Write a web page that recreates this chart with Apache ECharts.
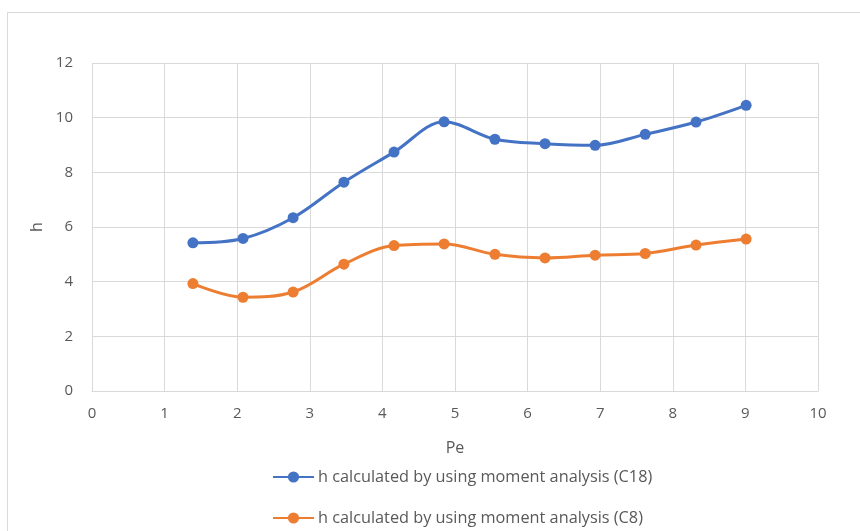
<!DOCTYPE html>
<html>
<head>
<meta charset="utf-8">
<script src="https://cdn.jsdelivr.net/npm/echarts@6/dist/echarts.min.js"></script>
<style>
html,body{margin:0;padding:0;background:#fff;}
#chart{width:860px;height:531px;}
</style>
</head>
<body>
<div id="chart"></div>
<script>
var peValues = [1.39, 2.08, 2.77, 3.47, 4.16, 4.85, 5.55, 6.24, 6.93, 7.62, 8.32, 9.01];
var hC18 = [5.42, 5.58, 6.34, 7.64, 8.74, 9.85, 9.21, 9.05, 8.99, 9.39, 9.84, 10.45];
var hC8 = [3.93, 3.43, 3.62, 4.64, 5.32, 5.38, 5.00, 4.87, 4.97, 5.03, 5.34, 5.56];
var seriesNames = ['h calculated by using moment analysis (C18)', 'h calculated by using moment analysis (C8)'];
var xAxisTitle = 'Pe';
var yAxisTitle = 'h';

function pairs(xs, ys) { return xs.map(function (x, i) { return [x, ys[i]]; }); }

var fontFam = '"Open Sans", "Liberation Sans", sans-serif';
var textColor = '#595959';
var gridColor = '#D9D9D9';

function legendFor(name, top) {
  return {
    left: 272, top: top, padding: 0,
    itemWidth: 41, itemHeight: 14,
    textStyle: {fontSize: 16.3, color: textColor, fontFamily: fontFam, padding: [0,0,0,-1]},
    data: [name]
  };
}

var chart = echarts.init(document.getElementById('chart'), null, {renderer: 'canvas'});
chart.setOption({
  animation: false,
  backgroundColor: '#fff',
  textStyle: {fontFamily: fontFam, color: textColor},
  graphic: [{
    type: 'rect', silent: true, z: -1,
    shape: {x: 7.5, y: 12.5, width: 900, height: 600},
    style: {fill: 'none', stroke: gridColor, lineWidth: 1}
  }],
  grid: {left: 92, right: 42, top: 63, bottom: 140, containLabel: false},
  xAxis: {
    type: 'value', min: 0, max: 10, interval: 1,
    name: xAxisTitle, nameLocation: 'middle', nameGap: 49,
    nameTextStyle: {fontSize: 16, color: textColor, fontFamily: fontFam},
    axisLine: {show: true, lineStyle: {color: gridColor, width: 1}},
    axisTick: {show: false},
    axisLabel: {fontSize: 15, color: textColor, margin: 15, fontFamily: fontFam},
    splitLine: {show: true, lineStyle: {color: gridColor, width: 1}}
  },
  yAxis: {
    type: 'value', min: 0, max: 12, interval: 2,
    name: yAxisTitle, nameLocation: 'middle', nameGap: 47, nameRotate: 90,
    nameTextStyle: {fontSize: 16, color: textColor, fontFamily: fontFam},
    axisLine: {show: false},
    axisTick: {show: false},
    axisLabel: {fontSize: 15, color: textColor, margin: 19, fontFamily: fontFam},
    splitLine: {show: true, lineStyle: {color: gridColor, width: 1}}
  },
  legend: [legendFor(seriesNames[0], 469), legendFor(seriesNames[1], 510)],
  series: [
    {
      name: seriesNames[0], type: 'line', data: pairs(peValues, hC18),
      smooth: 0.35, symbol: 'circle', symbolSize: 11,
      lineStyle: {color: '#4472C4', width: 3}, itemStyle: {color: '#4472C4'}
    },
    {
      name: seriesNames[1], type: 'line', data: pairs(peValues, hC8),
      smooth: 0.35, symbol: 'circle', symbolSize: 11,
      lineStyle: {color: '#ED7D31', width: 3}, itemStyle: {color: '#ED7D31'}
    }
  ]
});
</script>
</body>
</html>
